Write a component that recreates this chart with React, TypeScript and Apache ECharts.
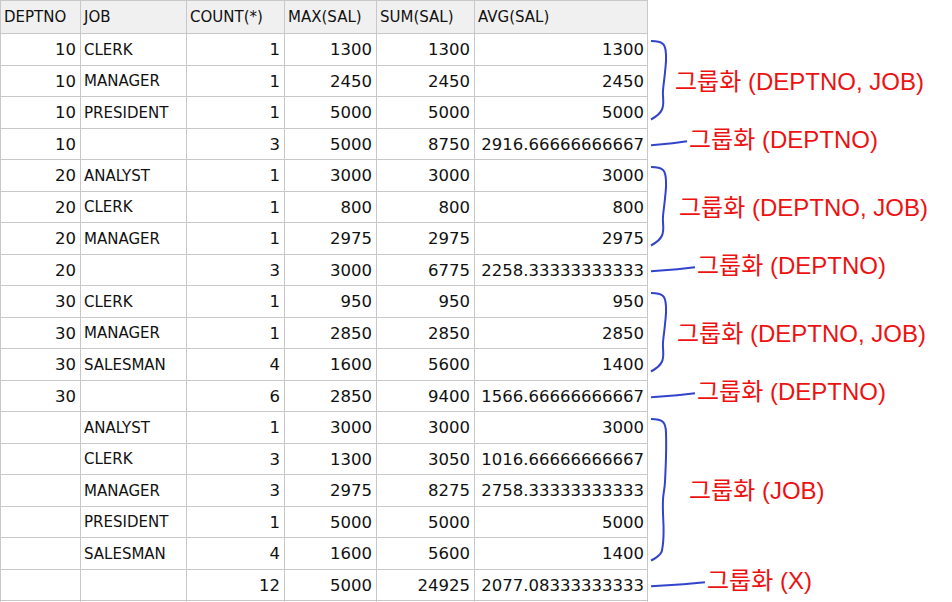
import React, { useEffect, useRef } from "react";
import * as echarts from "echarts";

const headers = ["DEPTNO", "JOB", "COUNT(*)", "MAX(SAL)", "SUM(SAL)", "AVG(SAL)"];
const deptno = ["10","10","10","10","20","20","20","20","30","30","30","30","","","","","",""];
const jobs = ["CLERK","MANAGER","PRESIDENT","","ANALYST","CLERK","MANAGER","","CLERK","MANAGER","SALESMAN","","ANALYST","CLERK","MANAGER","PRESIDENT","SALESMAN",""];
const counts = ["1","1","1","3","1","1","1","3","1","1","4","6","1","3","3","1","4","12"];
const maxSal = ["1300","2450","5000","5000","3000","800","2975","3000","950","2850","1600","2850","3000","1300","2975","5000","1600","5000"];
const sumSal = ["1300","2450","5000","8750","3000","800","2975","6775","950","2850","5600","9400","3000","3050","8275","5000","5600","24925"];
const avgSal = ["1300","2450","5000","2916.66666666667","3000","800","2975","2258.33333333333","950","2850","1400","1566.66666666667","3000","1016.66666666667","2758.33333333333","5000","1400","2077.08333333333"];

// annotations: [firstRow, lastRow, label]
const groups: [number, number, string][] = [
  [0, 2, "그룹화 (DEPTNO, JOB)"],
  [3, 3, "그룹화 (DEPTNO)"],
  [4, 6, "그룹화 (DEPTNO, JOB)"],
  [7, 7, "그룹화 (DEPTNO)"],
  [8, 10, "그룹화 (DEPTNO, JOB)"],
  [11, 11, "그룹화 (DEPTNO)"],
  [12, 16, "그룹화 (JOB)"],
  [17, 17, "그룹화 (X)"],
];
const labelOffsets = [14, 36, 18, 44, 16, 44, 28, 54];

export default function App() {
  const ref = useRef<HTMLDivElement>(null);
  useEffect(() => {
    const chart = echarts.init(ref.current!, undefined, { renderer: "svg" });
    const colX = [0, 80, 186, 284, 376, 474, 648];
    const headH = 33;
    const rowH = 31.5;
    const font = "16.5px 'DejaVu Sans', sans-serif";
    const hfont = "15px 'DejaVu Sans', sans-serif";
    const rfont = "24px 'Liberation Sans', 'Noto Sans CJK KR', sans-serif";
    const els: any[] = [];
    els.push({ type: "rect", shape: { x: 0, y: 0, width: 648, height: headH }, style: { fill: "#f0f0f0" } });
    headers.forEach((h, i) => {
      els.push({ type: "text", x: colX[i] + 4, y: headH / 2, style: { text: h, font: hfont, fill: "#111", verticalAlign: "middle" } });
    });
    const cols = [deptno, jobs, counts, maxSal, sumSal, avgSal];
    const rightAlign = [true, false, true, true, true, true];
    for (let r = 0; r < deptno.length; r++) {
      const yc = headH + rowH * r + rowH / 2 + 1;
      cols.forEach((c, i) => {
        const t = c[r];
        if (!t) return;
        els.push({
          type: "text",
          x: rightAlign[i] ? colX[i + 1] - 4 : colX[i] + 4,
          y: yc,
          style: { text: t, font: i === 1 ? hfont : font, fill: "#111", align: rightAlign[i] ? "right" : "left", verticalAlign: "middle" },
        });
      });
    }
    for (let r = 0; r <= deptno.length; r++) {
      const y = Math.round(headH + rowH * r) + 0.5;
      els.push({ type: "line", shape: { x1: 0, y1: y, x2: 648, y2: y }, style: { stroke: "#c8c8c8", lineWidth: 1 } });
    }
    els.push({ type: "line", shape: { x1: 0, y1: 0.5, x2: 648, y2: 0.5 }, style: { stroke: "#c8c8c8", lineWidth: 1 } });
    colX.forEach((x) => {
      const xx = Math.min(x, 647) + 0.5;
      els.push({ type: "line", shape: { x1: xx, y1: 0, x2: xx, y2: 602 }, style: { stroke: "#c8c8c8", lineWidth: 1 } });
    });
    const blue = "#3344cc";
    groups.forEach(([a, b, label], gi) => {
      const x0 = 651;
      if (a === b) {
        const y = headH + rowH * a + rowH / 2 + 2;
        const len = labelOffsets[gi];
        els.push({ type: "polyline", shape: { points: [[x0, y], [x0 + len * 0.6, y - 2], [x0 + len, y - 4]], smooth: 0.5 }, style: { stroke: blue, lineWidth: 2, fill: "none" } });
        els.push({ type: "text", x: x0 + len + 2, y: y - 6, style: { text: label, font: rfont, fill: "#ee1111", verticalAlign: "middle" } });
      } else {
        const yt = headH + rowH * a + 8;
        const yb = headH + rowH * (b + 1) - 8;
        const ym = (yt + yb) / 2;
        const xr = x0 + 15;
        els.push({ type: "polyline", shape: { points: [[x0, yt], [xr - 3, yt + 3], [xr, yt + 14], [xr - 1, ym - 8], [xr - 3, ym + 10], [xr - 4, yb - 10], [x0, yb]], smooth: 0.4 }, style: { stroke: blue, lineWidth: 2, fill: "none" } });
        els.push({ type: "text", x: x0 + 10 + labelOffsets[gi], y: ym + 1, style: { text: label, font: rfont, fill: "#ee1111", verticalAlign: "middle" } });
      }
    });
    chart.setOption({ animation: false, graphic: els });
    return () => chart.dispose();
  }, []);
  return <div ref={ref} style={{ position: "fixed", left: 0, top: 0, width: 952, height: 602, background: "#fff" }} />;
}
